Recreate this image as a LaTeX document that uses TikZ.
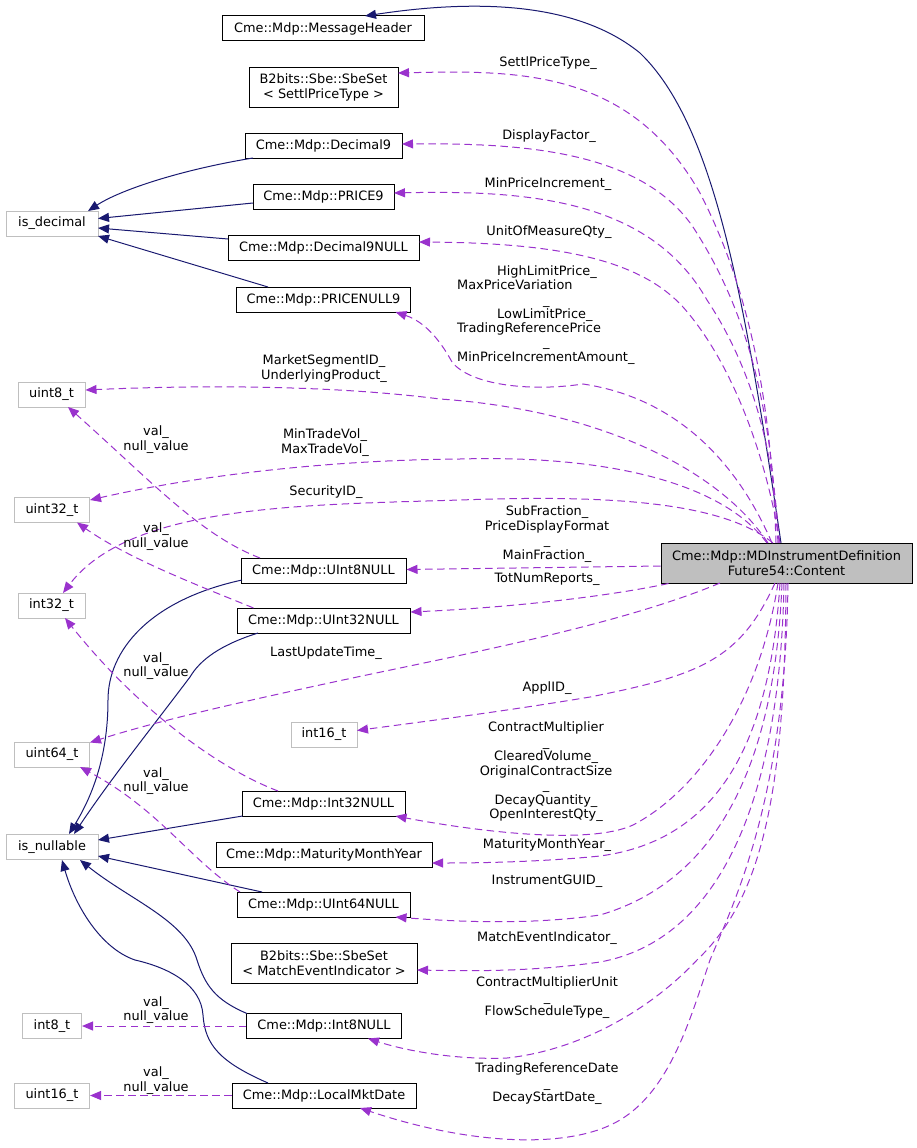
\documentclass[tikz,border=0pt]{standalone}
\usepackage{fontspec}
\setmainfont{DejaVu Sans}
\usetikzlibrary{arrows.meta,calc}
\definecolor{edgeblue}{HTML}{191970}
\definecolor{edgepurple}{HTML}{9A32CD}
\definecolor{boxgray}{HTML}{BFBFBF}
\begin{document}
\begin{tikzpicture}[x=1pt,y=-1pt,
  font=\fontsize{12.9}{14.5}\selectfont,
  cls/.style={draw=black, fill=white, line width=1pt, inner sep=0pt, minimum height=25pt, align=center},
  ext/.style={cls, draw=boxgray},
  mainbox/.style={cls, fill=boxgray, minimum height=40pt},
  inh/.style={draw=edgeblue, line width=1pt, -{Triangle[length=11pt,width=9pt]}},
  mem/.style={draw=edgepurple, line width=1pt, dash pattern=on 7.5pt off 4.5pt, -{Triangle[length=11pt,width=9pt]}},
  lbl/.style={inner sep=0pt, align=center}]
\useasboundingbox (0,0) rectangle (917,1148);

% nodes
\node[cls, minimum width=202pt] (msgh) at (323,28.5) {Cme::Mdp::MessageHeader};
\node[cls, minimum width=149pt, minimum height=40pt] (settl) at (323.5,87.5) {B2bits::Sbe::SbeSet\\< SettlPriceType >};
\node[cls, minimum width=157pt] (dec9) at (323.5,145.5) {Cme::Mdp::Decimal9};
\node[cls, minimum width=141pt] (price9) at (323.5,196.5) {Cme::Mdp::PRICE9};
\node[cls, minimum width=191pt] (dec9n) at (323.5,247.5) {Cme::Mdp::Decimal9NULL};
\node[cls, minimum width=174pt] (pricen9) at (323.5,299.5) {Cme::Mdp::PRICENULL9};
\node[ext, minimum width=92pt] (isdec) at (52,223.5) {is\_decimal};
\node[ext, minimum width=67pt] (u8) at (51.5,394.5) {uint8\_t};
\node[ext, minimum width=75pt] (u32) at (52,510) {uint32\_t};
\node[ext, minimum width=67pt] (i32) at (51.5,605.5) {int32\_t};
\node[cls, minimum width=165pt] (u8n) at (323.5,570.5) {Cme::Mdp::UInt8NULL};
\node[cls, minimum width=173pt] (u32n) at (323.5,620.5) {Cme::Mdp::UInt32NULL};
\node[ext, minimum width=66pt] (i16) at (324,734.5) {int16\_t};
\node[ext, minimum width=75pt] (u64) at (52,754.5) {uint64\_t};
\node[cls, minimum width=163pt] (i32n) at (323.5,803.5) {Cme::Mdp::Int32NULL};
\node[ext, minimum width=92pt] (isnull) at (52,847) {is\_nullable};
\node[cls, minimum width=216pt] (mmy) at (324,854.5) {Cme::Mdp::MaturityMonthYear};
\node[cls, minimum width=173pt] (u64n) at (323.5,904.5) {Cme::Mdp::UInt64NULL};
\node[cls, minimum width=186pt, minimum height=40pt] (mei) at (324,963) {B2bits::Sbe::SbeSet\\< MatchEventIndicator >};
\node[ext, minimum width=59pt] (i8) at (52,1026) {int8\_t};
\node[cls, minimum width=155pt] (i8n) at (324,1026) {Cme::Mdp::Int8NULL};
\node[ext, minimum width=75pt] (u16) at (52,1095.5) {uint16\_t};
\node[cls, minimum width=184pt] (lmd) at (324,1095.5) {Cme::Mdp::LocalMktDate};
\node[mainbox, minimum width=251pt] (main) at (786.5,563) {Cme::Mdp::MDInstrumentDefinition\\Future54::Content};

% inheritance / usage (blue)
\draw[inh] ($(main)+(-5.5,-20)$) .. controls (745,300) and (715,125) .. (640,53) .. controls (575,0) and (470,0) .. ($(msgh)+(42,-12.5)$);
\draw[inh] ($(dec9)+(-70.5,12.5)$) .. controls (180,170) and (120,190) .. ($(isdec)+(36,-12.5)$);
\draw[inh] ($(price9)+(-70.5,6.5)$) -- ($(isdec)+(46,-5)$);
\draw[inh] ($(dec9n)+(-95.5,-8.5)$) -- ($(isdec)+(46,4.5)$);
\draw[inh] ($(pricen9)+(-55.5,-12.5)$) -- ($(isdec)+(46,12.5)$);
\draw[inh] ($(u8n)+(-81.5,9.5)$) .. controls (150,600) and (108,650) .. (108,700) .. controls (108,760) and (90,800) .. ($(isnull)+(17,-13)$);
\draw[inh] ($(u32n)+(-65.5,12.5)$) .. controls (220,645) and (200,660) .. (190,677) .. controls (150,730) and (110,780) .. ($(isnull)+(22,-13)$);
\draw[inh] ($(i32n)+(-81,12.5)$) -- ($(isnull)+(46,-7)$);
\draw[inh] ($(u64n)+(-61.5,-12.5)$) -- ($(isnull)+(46,9)$);
\draw[inh] ($(i8n)+(-77,-12.5)$) .. controls (215,1000) and (205,985) .. (197,960) .. controls (185,920) and (130,900) .. ($(isnull)+(28,13)$);
\draw[inh] ($(lmd)+(-56,-12.5)$) .. controls (220,1062) and (205,1045) .. (203,1015) .. controls (201,985) and (170,968) .. (135,960) .. controls (100,948) and (75,905) .. ($(isnull)+(10,13)$);

% members (purple dashed)
\draw[mem] ($(main)+(-10.5,-20)$) .. controls (772,420) and (755,300) .. (700,193) .. controls (630,70) and (520,70) .. ($(settl)+(74.5,-14.5)$);
\draw[mem] ($(main)+(-8.5,-20)$) .. controls (772,440) and (760,330) .. (693,227) .. controls (640,150) and (520,143) .. ($(dec9)+(78.5,-1.5)$);
\draw[mem] ($(main)+(-7.5,-20)$) .. controls (775,470) and (760,380) .. (707,300) .. controls (650,200) and (530,190) .. ($(price9)+(70.5,-3.5)$);
\draw[mem] ($(main)+(-6.5,-20)$) .. controls (765,450) and (730,360) .. (683,307) .. controls (640,260) and (560,243) .. ($(dec9n)+(95.5,-5.5)$);
\draw[mem] ($(main)+(-14.5,-20)$) .. controls (745,480) and (690,400) .. (583,384) .. controls (530,392) and (470,385) .. (452,362) .. controls (440,340) and (425,322) .. ($(pricen9)+(72,12.5)$);
\draw[mem] ($(main)+(-18.5,-20)$) .. controls (720,470) and (600,410) .. (440,399) .. controls (330,385) and (200,385) .. ($(u8)+(34,-4.5)$);
\draw[mem] ($(main)+(-19.5,-20)$) .. controls (720,480) and (600,455) .. (460,459) .. controls (330,460) and (200,475) .. ($(u32)+(38,-10)$);
\draw[mem] ($(main)+(-13.5,-20)$) .. controls (720,500) and (600,495) .. (460,500) .. controls (300,505) and (130,505) .. ($(i32)+(11.5,-12.5)$);
\draw[mem] ($(main.west)+(0,3)$) -- ($(u8n.east)+(0,-1)$);
\draw[mem] ($(main.south west)+(8,0)$) .. controls (600,598) and (500,608) .. ($(u32n.east)+(0,-8.5)$);
\draw[mem] ($(main)+(-66.5,20)$) .. controls (620,625) and (460,655) .. (343,680) .. controls (250,700) and (160,720) .. ($(u64)+(38,-12)$);
\draw[mem] ($(main)+(-11.5,20)$) .. controls (740,660) and (700,675) .. (590,697) .. controls (500,712) and (420,722) .. ($(i16)+(33,-4)$);
\draw[mem] ($(main)+(-8.5,20)$) .. controls (760,700) and (700,790) .. (633,825) .. controls (590,845) and (480,832) .. ($(i32n)+(72,12.5)$);
\draw[mem] ($(main)+(-6.5,20)$) .. controls (770,740) and (720,840) .. (600,856) .. controls (540,862) and (480,863) .. ($(mmy)+(108,8.5)$);
\draw[mem] ($(main)+(-4.5,20)$) .. controls (775,760) and (720,880) .. (600,915) .. controls (530,925) and (460,922) .. ($(u64n)+(72,12.5)$);
\draw[mem] ($(main)+(-2.5,20)$) .. controls (780,800) and (720,940) .. (600,962) .. controls (530,972) and (470,971) .. ($(mei)+(93,7)$);
\draw[mem] ($(main)+(-0.5,20)$) .. controls (785,800) and (760,900) .. (697,960) .. controls (650,1010) and (580,1050) .. (507,1058) .. controls (460,1060) and (410,1052) .. ($(i8n)+(44,12.5)$);
\draw[mem] ($(main)+(1.5,20)$) .. controls (785,800) and (735,900) .. (710,960) .. controls (690,1020) and (670,1090) .. (620,1120) .. controls (570,1150) and (470,1145) .. ($(lmd)+(36,12.5)$);
\draw[mem] ($(u8n)+(-63.5,-12.5)$) .. controls (200,535) and (150,480) .. ($(u8)+(16.5,12.5)$);
\draw[mem] ($(u32n)+(-70,-12.5)$) .. controls (210,590) and (130,560) .. ($(u32)+(25,12.5)$);
\draw[mem] ($(i32n)+(-45.5,-12.5)$) .. controls (210,765) and (130,700) .. ($(i32)+(13.5,12.5)$);
\draw[mem] ($(u64n)+(-83.5,-12.5)$) .. controls (190,860) and (160,810) .. ($(u64)+(28,12.5)$);
\draw[mem] (i8n.west) -- (i8.east);
\draw[mem] (lmd.west) -- (u16.east);

% labels
\node[lbl] (lSettl) at (548,63) {SettlPriceType\_};
\node[lbl] (lDisp) at (549,136) {DisplayFactor\_};
\node[lbl] (lMinPI) at (548,184) {MinPriceIncrement\_};
\node[lbl] (lUOM) at (549,232) {UnitOfMeasureQty\_};
\node[lbl, align=left, anchor=west, font=\fontsize{12.9}{14.3}\selectfont] (lHigh) at (457,315) {\hspace*{40pt}HighLimitPrice\_\\MaxPriceVariation\\\hspace*{86pt}\_\\\hspace*{40pt}LowLimitPrice\_\\TradingReferencePrice\\\hspace*{86pt}\_\\MinPriceIncrementAmount\_};
\node[lbl] (lMkt) at (324,368.5) {MarketSegmentID\_\\UnderlyingProduct\_};
\node[lbl] (lTrade) at (325,442.5) {MinTradeVol\_\\MaxTradeVol\_};
\node[lbl] (lSec) at (326,492) {SecurityID\_};
\node[lbl] (lSub) at (547,534) {SubFraction\_\\PriceDisplayFormat\\\_\\MainFraction\_};
\node[lbl] (lTot) at (547,579) {TotNumReports\_};
\node[lbl] (lLast) at (326,653) {LastUpdateTime\_};
\node[lbl] (lAppl) at (547,688) {ApplID\_};
\node[lbl] (lContract) at (546,772) {ContractMultiplier\\\_\\ClearedVolume\_\\OriginalContractSize\\\_\\DecayQuantity\_\\OpenInterestQty\_};
\node[lbl] (lMat) at (547,845) {MaturityMonthYear\_};
\node[lbl] (lGuid) at (547,881) {InstrumentGUID\_};
\node[lbl] (lMei) at (547,938) {MatchEventIndicator\_};
\node[lbl] (lCmu) at (547,998) {ContractMultiplierUnit\\\_\\FlowScheduleType\_};
\node[lbl] (lTrd) at (547,1084) {TradingReferenceDate\\\_\\DecayStartDate\_};
\node[lbl] (v1) at (156,439.5) {val\_\\null\_value};
\node[lbl] (v2) at (156,536.5) {val\_\\null\_value};
\node[lbl] (v3) at (156,666) {val\_\\null\_value};
\node[lbl] (v4) at (156,781) {val\_\\null\_value};
\node[lbl] (v5) at (156,1010) {val\_\\null\_value};
\node[lbl] (v6) at (156,1080.5) {val\_\\null\_value};
\end{tikzpicture}
\end{document}
